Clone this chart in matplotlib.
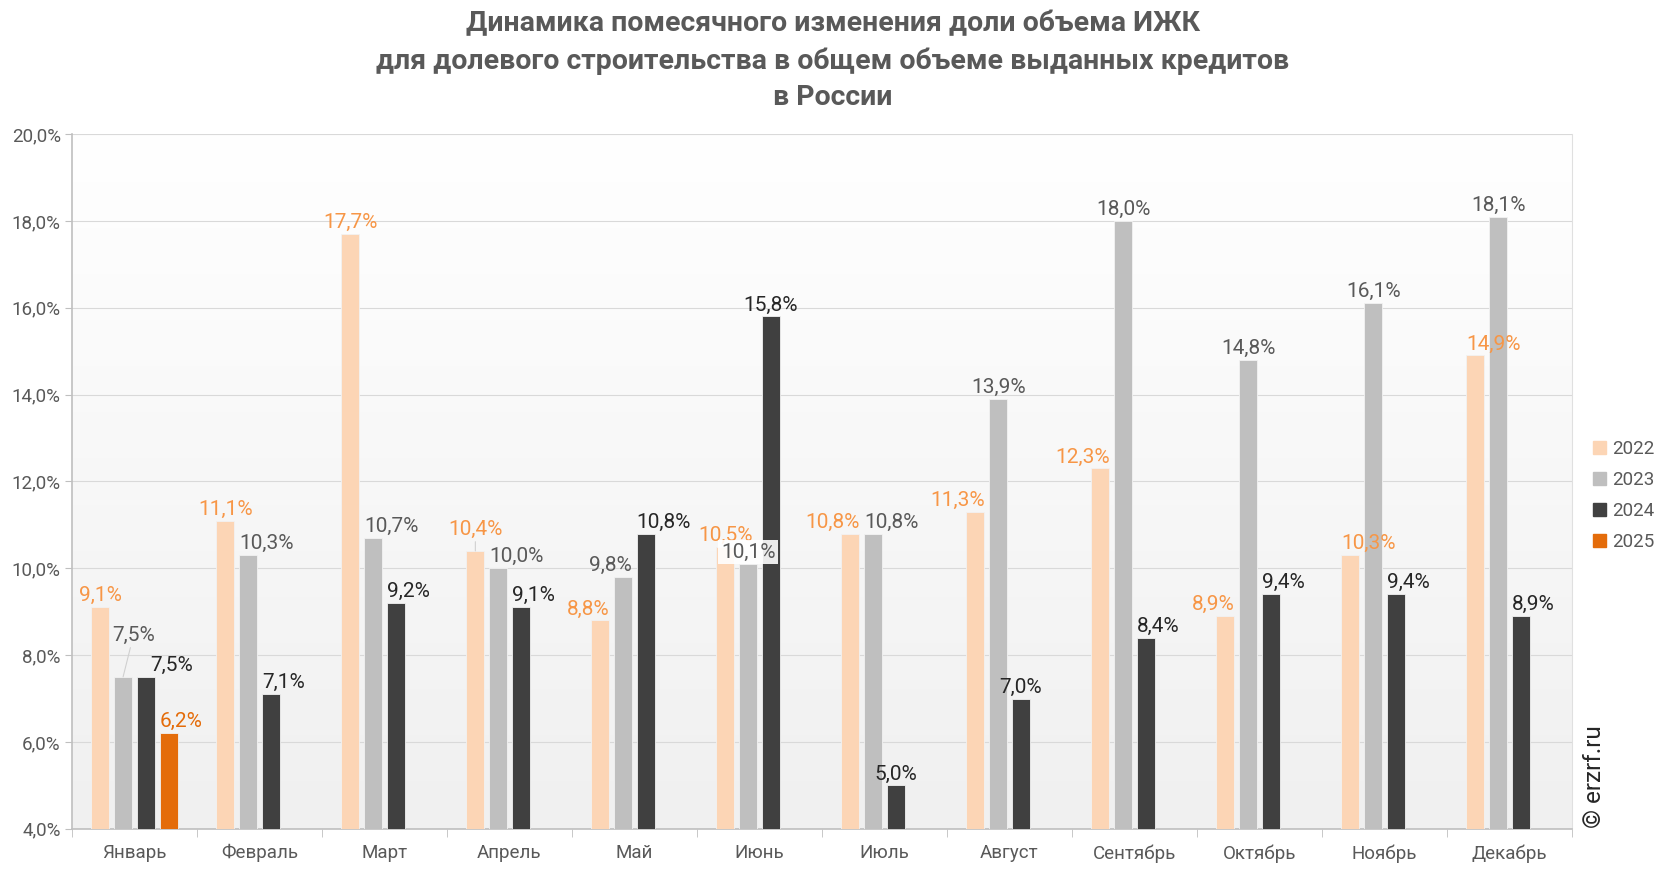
import matplotlib
matplotlib.use("Agg")
import matplotlib.pyplot as plt
import numpy as np
from matplotlib.patches import Rectangle
from matplotlib.ticker import FixedLocator, FuncFormatter

plt.rcParams["font.family"] = ["Roboto", "DejaVu Sans"]

MONTHS = ["Январь", "Февраль", "Март", "Апрель", "Май", "Июнь", "Июль",
          "Август", "Сентябрь", "Октябрь", "Ноябрь", "Декабрь"]
Y2022 = [9.1, 11.1, 17.7, 10.4, 8.8, 10.5, 10.8, 11.3, 12.3, 8.9, 10.3, 14.9]
Y2023 = [7.5, 10.3, 10.7, 10.0, 9.8, 10.1, 10.8, 13.9, 18.0, 14.8, 16.1, 18.1]
Y2024 = [7.5, 7.1, 9.2, 9.1, 10.8, 15.8, 5.0, 7.0, 8.4, 9.4, 9.4, 8.9]
Y2025 = [6.2]
YEARS = ["2022", "2023", "2024", "2025"]

BAR_COLORS = ["#fcd5b5", "#bfbfbf", "#404040", "#e46c0a"]
LABEL_COLORS = ["#f79646", "#595959", "#262626", "#e46c0a"]
TEXT = "#595959"

# how each data label sits on its bar: c = centred, l = flush left, r = flush right
LABEL_ALIGN = ["ccccrcrrrrll", "llllrclccccc", "lllllccclllll", "l"]
# labels pulled away from the bar (dx, dy in px from the bar top centre), with a leader
LEADERS = {(1, 0): (-11, 30), (0, 3): (0, 10)}
NUDGE = {(2, 0): (13, 0)}
BOXED = {(1, 5)}

fig = plt.figure(figsize=(16.66, 8.72), dpi=100)
ax = fig.add_axes([0.0432, 0.0495, 0.9004, 0.7968])

# light vertical gradient in the plot area
grad = np.linspace(1.0, 0.0, 256).reshape(-1, 1)
ax.imshow(grad, cmap=matplotlib.colors.LinearSegmentedColormap.from_list(
    "bg", ["#f0f0f0", "#ffffff"]), aspect="auto", extent=(0, 1, 0, 1),
    transform=ax.transAxes, zorder=0, vmin=0, vmax=1)

PT = 0.72  # points per pixel at dpi 100
x = np.arange(len(MONTHS))
step, width = 0.182, 0.145
series = [Y2022, Y2023, Y2024, Y2025]
for i, vals in enumerate(series):
    xs = x[:len(vals)] + (i - 1.5) * step
    ax.bar(xs, np.array(vals) - 4.0, bottom=4.0, width=width, color=BAR_COLORS[i],
           edgecolor="#f2f2f2", lw=0.6, zorder=3)
    for j, (xx, v) in enumerate(zip(xs, vals)):
        lbl = f"{v:.1f}%".replace(".", ",")
        a = LABEL_ALIGN[i][j]
        ha = {"c": "center", "l": "left", "r": "right"}[a]
        anchor = xx + {"c": 0.0, "l": -width / 2, "r": width / 2}[a]
        dx, dy = NUDGE.get((i, j), (0, 0))
        kw = {}
        if (i, j) in LEADERS:
            anchor = xx
            dx, dy = LEADERS[(i, j)]
            kw["arrowprops"] = dict(arrowstyle="-", color="#d0d0d0", lw=0.8,
                                    shrinkA=0, shrinkB=0)
        if (i, j) in BOXED:
            kw["bbox"] = dict(boxstyle="square,pad=0.12", fc="white", ec="none", alpha=0.9)
        ax.annotate(lbl, xy=(anchor, v), xytext=(dx * PT, (dy + 6) * PT),
                    textcoords="offset points", ha=ha, va="baseline", fontsize=15,
                    color=LABEL_COLORS[i], zorder=5, **kw)

ax.set_xlim(-0.5, len(MONTHS) - 0.5)
ax.set_ylim(4.0, 20.0)
ax.set_yticks(np.arange(4, 20.1, 2))
ax.yaxis.set_major_formatter(FuncFormatter(lambda v, _: f"{v:.1f}%".replace(".", ",")))
ax.yaxis.grid(True, color="#d9d9d9", lw=0.8, zorder=1)
ax.set_axisbelow(True)
ax.set_xticks(x)
ax.set_xticklabels(MONTHS)
ax.xaxis.set_minor_locator(FixedLocator(np.arange(-0.5, len(MONTHS), 1.0)))
ax.tick_params(axis="x", which="major", length=0, pad=11, labelsize=13.5, labelcolor=TEXT)
ax.tick_params(axis="x", which="minor", length=6, color="#bfbfbf", direction="out")
ax.tick_params(axis="y", length=5, color="#bfbfbf", labelsize=13.5, labelcolor=TEXT, pad=3)
for side in ["left", "bottom"]:
    ax.spines[side].set_color("#bfbfbf")
    ax.spines[side].set_linewidth(1.2)
ax.spines["right"].set_color("#e0e0e0")
ax.spines["top"].set_visible(False)

handles = [Rectangle((0, 0), 1, 1, color=c) for c in BAR_COLORS]
fig.legend(handles, YEARS, loc="upper left", bbox_to_anchor=(0.946, 0.515),
           frameon=False, fontsize=13.5, labelcolor=TEXT, handlelength=0.7,
           handleheight=0.7, handletextpad=0.3, labelspacing=0.7)

fig.text(0.5, 0.988, "Динамика помесячного изменения доли объема ИЖК\n"
         "для долевого строительства в общем объеме выданных кредитов\nв России",
         ha="center", va="top", fontsize=20.5, fontweight="bold", color=TEXT,
         linespacing=1.45)
fig.text(0.957, 0.05, "© erzrf.ru", rotation=90, ha="center", va="bottom",
         fontsize=17.5, color="#262626")

fig.savefig("out.png", dpi=100)
